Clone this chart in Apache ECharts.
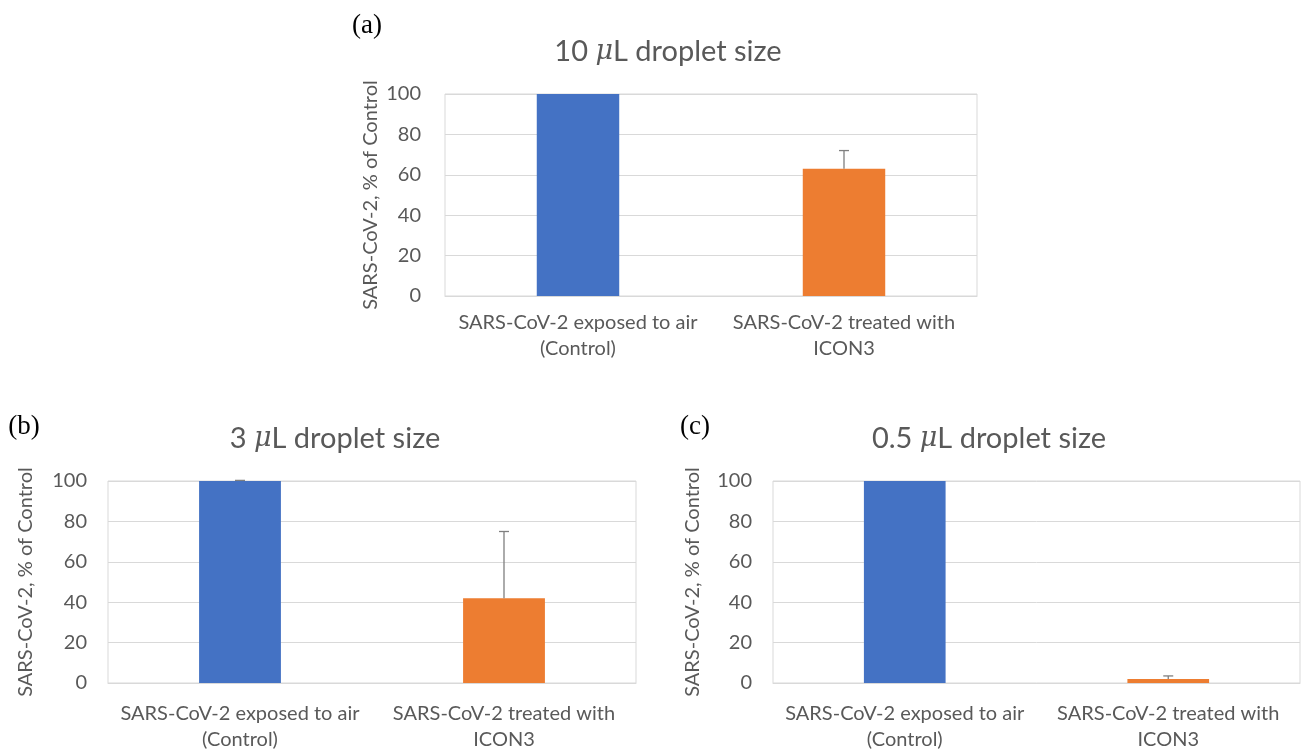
<!DOCTYPE html>
<html>
<head>
<meta charset="utf-8">
<script src="https://cdn.jsdelivr.net/npm/echarts@6/dist/echarts.min.js"></script>
<style>
  html, body { margin: 0; padding: 0; background: #fff; }
  #main { width: 1301px; height: 751px; }
</style>
</head>
<body>
<div id="main"></div>
<script>
// data
var categories = ['SARS-CoV-2 exposed to air\n(Control)', 'SARS-CoV-2 treated with\nICON3'];
var panelLetters = ['(a)', '(b)', '(c)'];
var panelTitles = ['10 {i|\u03bc}L droplet size', '3 {i|\u03bc}L droplet size', '0.5 {i|\u03bc}L droplet size'];
var yTicks = [0, 20, 40, 60, 80, 100];
var meansA = [100, 63];
var errA = [0, 9];
var meansB = [100, 42];
var errB = [0.3, 33];
var meansC = [100, 2];
var errC = [0, 1.5];
var barColors = ['#4472C4', '#ED7D31'];

var means = [meansA, meansB, meansC];
var errs = [errA, errB, errC];

// layout of the three panels
var grids = [
    { left: 445, top: 94, width: 532, height: 202 },
    { left: 108, top: 481, width: 528, height: 202 },
    { left: 773, top: 481, width: 527, height: 202 }
];
var titlePos = [[668, 52], [335, 439], [989, 439]];
var letterPos = [[367, 26], [24, 427], [695, 427]];
var nameGaps = [64, 72, 70];
var labelMargins = [14, 18, 18];
var tickMargins = [24, 21, 21];

var textGray = '#595959';
var font = 'Lato';

var chart = echarts.init(document.getElementById('main'));

var option = {
    backgroundColor: '#fff',
    animation: false,
    grid: [],
    xAxis: [],
    yAxis: [],
    series: [],
    graphic: []
};

grids.forEach(function (g, i) {
    option.grid.push({
        left: g.left, top: g.top, width: g.width, height: g.height,
        show: true, borderColor: '#d9d9d9', borderWidth: 1,
        outerBoundsMode: 'none'
    });
    option.xAxis.push({
        type: 'category', gridIndex: i, data: categories,
        axisLine: { show: true, lineStyle: { color: '#d9d9d9' } },
        axisTick: { show: false },
        axisLabel: { color: textGray, fontFamily: font, fontSize: 20, lineHeight: 26, margin: labelMargins[i], interval: 0 }
    });
    option.yAxis.push({
        type: 'value', gridIndex: i, min: yTicks[0], max: yTicks[yTicks.length - 1], interval: yTicks[1] - yTicks[0],
        name: 'SARS-CoV-2, % of Control', nameLocation: 'middle', nameGap: nameGaps[i],
        nameTextStyle: { color: textGray, fontFamily: font, fontSize: 20 },
        axisLine: { show: false }, axisTick: { show: false },
        axisLabel: { color: textGray, fontFamily: font, fontSize: 20, margin: tickMargins[i] },
        splitLine: { lineStyle: { color: '#d9d9d9' } }
    });
    option.series.push({
        type: 'bar', xAxisIndex: i, yAxisIndex: i, barWidth: '31%',
        data: means[i].map(function (v, k) {
            return { value: v, itemStyle: { color: barColors[k] } };
        })
    });
    option.series.push({
        type: 'custom', xAxisIndex: i, yAxisIndex: i, z: 5,
        data: means[i].map(function (v, k) { return [k, v, errs[i][k]]; }),
        renderItem: function (params, api) {
            if (!api.value(2)) return null;
            var base = api.coord([api.value(0), api.value(1)]);
            var top = api.coord([api.value(0), api.value(1) + api.value(2)]);
            var style = { stroke: '#7f7f7f', lineWidth: 1.3 };
            return {
                type: 'group',
                children: [
                    { type: 'line', shape: { x1: base[0], y1: base[1], x2: top[0], y2: top[1] }, style: style },
                    { type: 'line', shape: { x1: top[0] - 5, y1: top[1], x2: top[0] + 5, y2: top[1] }, style: style }
                ]
            };
        }
    });
    option.graphic.push({
        type: 'text', x: titlePos[i][0], y: titlePos[i][1],
        style: {
            text: panelTitles[i], fill: textGray, font: '29px ' + font,
            align: 'center', verticalAlign: 'middle',
            rich: { i: { fontStyle: 'italic', fontFamily: 'DejaVu Serif', fontSize: 27, fill: textGray } }
        }
    });
    option.graphic.push({
        type: 'text', x: letterPos[i][0], y: letterPos[i][1],
        style: {
            text: panelLetters[i], fill: '#000', font: '27px "Liberation Serif"',
            align: 'center', verticalAlign: 'middle'
        }
    });
});

chart.setOption(option);
</script>
</body>
</html>
